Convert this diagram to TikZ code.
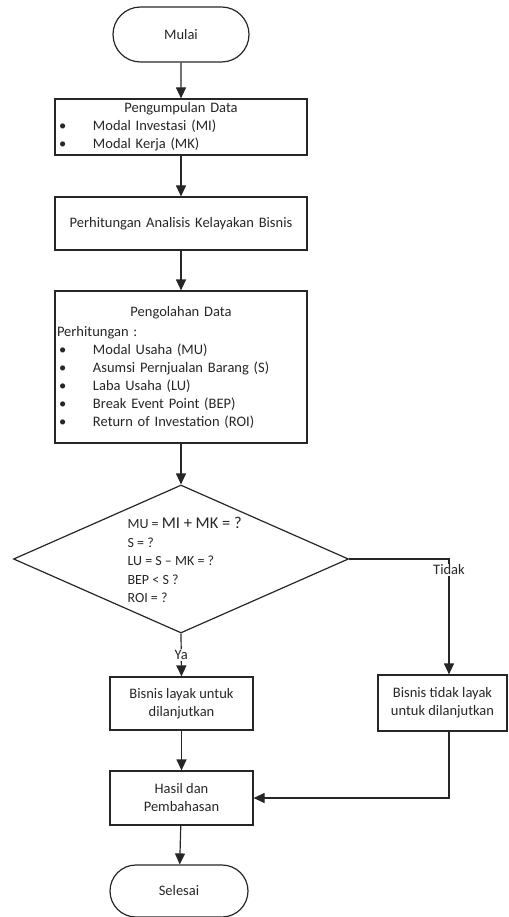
\documentclass[tikz,border=0pt]{standalone}
\usepackage{fontspec}
\setmainfont{Carlito}
\usetikzlibrary{shapes.geometric,shapes.misc,arrows.meta}

\tikzset{
  kotak/.style={draw=black!85, line width=1.2pt, rectangle, inner sep=0pt, align=center},
  terminal/.style={draw=black!85, line width=1.2pt, rounded rectangle, minimum width=136pt, minimum height=55pt, inner sep=0pt},
  panah/.style={draw=black!85, line width=1.2pt, -{Triangle[length=11pt,width=10pt]}},
  label/.style={fill=white, inner sep=1pt},
}
\newcommand{\butir}[1]{\makebox[\linewidth][l]{\makebox[38pt][l]{\hspace{4pt}\textbullet}#1}}

\begin{document}
\begin{tikzpicture}[x=1pt, y=-1pt, every node/.style={text=black!85, font=\fontsize{14.5}{18}\selectfont}]

\useasboundingbox (0,0) rectangle (508,917);

\node[terminal] (mulai) at (181,34.5) {Mulai};

\node[kotak, text width=252pt, minimum height=56pt] (kumpul) at (181,127) {Pengumpulan Data\\
  \butir{Modal Investasi (MI)}\\
  \butir{Modal Kerja (MK)}};

\node[kotak, text width=252pt, minimum height=53pt] (hitung) at (181,223.5) {Perhitungan Analisis Kelayakan Bisnis};

\node[kotak, text width=252pt, minimum height=152pt] (olah) at (181,367) {Pengolahan Data\\[2pt]
  \makebox[\linewidth][l]{\hspace{2pt}Perhitungan :}\\
  \butir{Modal Usaha (MU)}\\
  \butir{Asumsi Pernjualan Barang (S)}\\
  \butir{Laba Usaha (LU)}\\
  \butir{Break Event Point (BEP)}\\
  \butir{Return of Investation (ROI)}};

\node[draw=black!85, line width=1.2pt, diamond, minimum width=335pt, minimum height=148pt, inner sep=0pt] (cek) at (181,559) {};
\node[anchor=west, align=left, font=\fontsize{14}{18.5}\selectfont] (syarat) at (124,560) {MU = {\fontsize{16.5}{18.5}\selectfont MI + MK = ?}\\
  S = ?\\
  LU = S – MK = ?\\
  BEP < S ?\\
  ROI = ?};

\node[kotak, minimum width=143pt, minimum height=53pt] (layak) at (181.5,703.5) {Bisnis layak untuk\\dilanjutkan};
\node[kotak, minimum width=129pt, minimum height=56pt] (tidaklayak) at (442.5,703) {Bisnis tidak layak\\untuk dilanjutkan};
\node[kotak, minimum width=143pt, minimum height=54pt] (hasil) at (181.5,798) {Hasil dan\\Pembahasan};
\node[terminal, minimum width=138pt, minimum height=52pt] (selesai) at (179,891) {Selesai};

\coordinate (belok) at (449,559);

\draw[panah] (mulai) -- (kumpul);
\draw[panah] (kumpul) -- (hitung);
\draw[panah] (hitung) -- (olah);
\draw[panah] (olah) -- (cek);
\draw[panah] (cek.south) -- node[label]{Ya} (layak.north);
\draw[panah] (cek.east) -- (belok) -- node[label, pos=0.095]{Tidak} (belok |- tidaklayak.north);
\draw[panah] (layak) -- (hasil);
\draw[panah] (tidaklayak.south -| belok) |- (hasil.east);
\draw[panah] (hasil) -- (selesai);

\end{tikzpicture}
\end{document}
